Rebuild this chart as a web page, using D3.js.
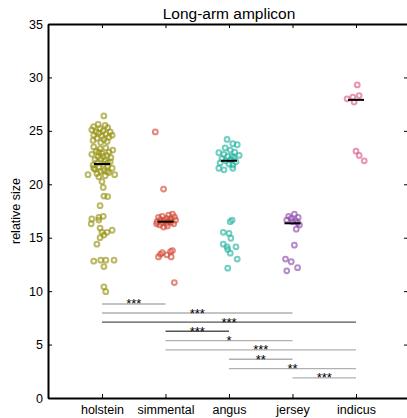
<!DOCTYPE html>
<html>
<head>
<meta charset="utf-8">
<script src="https://cdn.jsdelivr.net/npm/d3@7"></script>
<style>
body { margin: 0; background: #fff; }
text { font-family: "Liberation Sans", Arial, sans-serif; }
</style>
</head>
<body>
<div id="chart-area"></div>
<script>
// breeds
var categories = ["holstein", "simmental", "angus", "jersey", "indicus"];
var colors = ["#969414", "#d24a34", "#27b39f", "#8d4fab", "#dc5a8e"];

// relative size per animal (jitter in category units)
var holsteinVals = [26.4,
    25.6, 25.5, 25.4, 25.3, 25.2, 25.1, 25.0, 24.9, 24.9, 24.8, 24.7, 24.6, 24.5, 24.4, 24.3, 24.2, 24.1, 24.0, 23.9, 24.6,
    23.5, 23.4, 23.3, 23.2, 23.1, 23.0, 22.9, 22.8, 22.7, 22.6, 22.5, 22.4, 22.3, 22.2, 22.1, 22.0, 21.9, 21.8, 21.7, 21.6,
    21.5, 21.4, 21.3, 21.2, 21.1, 21.0, 20.9, 20.9, 20.8, 20.7, 21.2, 22.6, 23.0, 22.0, 21.5,
    20.25, 19.7, 18.9, 18.85, 18.0, 17.0, 16.9, 16.75, 16.65, 16.3, 15.9, 15.7, 15.5, 15.5, 15.25, 15.0, 14.4,
    12.8, 12.9, 12.9, 12.9, 12.3, 10.4, 9.95];
var holsteinJit = [0.03,
    -0.06, 0.05, -0.13, 0.09, -0.03, -0.16, 0.02, -0.09, 0.13, -0.05, 0.06, -0.13, 0, 0.11, -0.08, 0.03, -0.14, 0.08, -0.02, 0.16,
    -0.13, 0.06, -0.03, 0.17, -0.09, 0.11, 0, -0.16, 0.08, -0.06, 0.14, -0.02, -0.11, 0.05, 0.13, -0.08, 0.02, -0.14, 0.09, -0.05,
    0.16, -0.11, 0.03, -0.02, 0.11, -0.08, -0.22, 0.2, 0.05, -0.05, 0.08, 0.02, -0.05, 0.09, -0.13,
    0, 0.02, 0.03, 0.09, -0.03, 0.02, -0.05, -0.16, -0.05, -0.17, -0.03, 0.16, 0.08, 0, 0.03, -0.03, -0.08,
    -0.13, -0.02, 0.06, 0.19, 0.03, 0.03, 0.06];

var simmentalVals = [24.9, 19.55,
    17.2, 17.1, 17.0, 16.95, 16.9, 16.8, 16.75, 16.7, 16.65, 16.6, 16.55, 16.5, 16.45, 16.4, 16.35, 16.3, 16.2, 16.1, 16.0, 16.3,
    13.8, 13.7, 13.6, 13.45, 13.4, 13.2, 13.2, 10.8];
var simmentalJit = [-0.16, -0.03,
    0.11, 0.05, -0.05, 0.14, -0.11, 0.02, 0.08, -0.08, 0.16, -0.02, 0.05, -0.13, 0.09, -0.05, 0.02, 0.13, -0.09, 0.03, -0.03, -0.14,
    0.11, 0.08, -0.05, -0.08, 0.02, -0.11, 0.09, 0.14];

var angusVals = [24.2, 23.8, 23.7, 23.4, 23.2, 22.95, 23.0, 22.8, 22.7, 22.6, 22.5, 22.4, 22.3, 22.2, 22.1, 22.0, 21.9, 21.8,
    21.5, 21.35, 21.5, 22.6,
    16.5, 16.65, 15.5, 15.4, 14.95, 14.4, 14.15, 14.15, 13.9, 13.55, 13.0, 12.15];
var angusJit = [-0.03, 0.06, 0.13, -0.06, 0.02, -0.16, 0.09, -0.08, 0.16, -0.02, 0.08, -0.11, 0.03, -0.05, 0.11, -0.14, 0, 0.06,
    -0.16, -0.08, 0.06, 0.05,
    0.02, 0.05, -0.09, 0, 0.03, -0.09, -0.03, 0.11, -0.02, 0.02, 0.13, -0.02];

var jerseyVals = [17.2, 17.0, 16.9, 16.8, 16.65, 16.6, 16.5, 16.4, 16.2, 15.8, 14.3, 13.0, 12.75, 12.2, 11.9];
var jerseyJit = [0.03, -0.06, 0.09, -0.02, -0.09, 0.05, 0, 0.08, 0.11, 0.06, 0.03, -0.11, -0.02, 0.08, -0.09];

var indicusVals = [29.3, 28.3, 28.15, 28.0, 27.7, 23.1, 22.7, 22.2];
var indicusJit = [0.02, 0.05, -0.05, -0.14, -0.03, 0, 0.05, 0.13];

var medians = [21.9, 16.5, 22.2, 16.35, 27.9];

// significance brackets: from, to, label, height, dark
var pairFrom = [0, 0, 0, 1, 1, 1, 2, 2, 3];
var pairTo = [1, 3, 4, 2, 3, 4, 3, 4, 4];
var pairStars = ["***", "***", "***", "***", "*", "***", "**", "**", "***"];
var pairLevel = [8.8, 7.95, 7.1, 6.25, 5.37, 4.5, 3.62, 2.75, 1.88];
var pairDark = [false, false, true, true, false, false, false, false, false];

var yTicks = [0, 5, 10, 15, 20, 25, 30, 35];

var allVals = [holsteinVals, simmentalVals, angusVals, jerseyVals, indicusVals];
var allJit = [holsteinJit, simmentalJit, angusJit, jerseyJit, indicusJit];

var points = [];
allVals.forEach(function(vals, i) {
    vals.forEach(function(v, j) {
        points.push({ cat: i, value: v, jit: allJit[i][j] });
    });
});

var W = 407, H = 418;
var plotL = 48, plotR = 408, plotT = 24, plotB = 398;

var svg = d3.select("#chart-area")
    .append("svg")
        .attr("width", W)
        .attr("height", H);

var x = d3.scaleLinear()
    .domain([-0.85, 4.819])
    .range([plotL, plotR]);

var y = d3.scaleLinear()
    .domain([0, 35])
    .range([plotB, plotT]);

// Title
svg.append("text")
    .attr("x", 229)
    .attr("y", 19)
    .attr("text-anchor", "middle")
    .attr("font-size", "15.5px")
    .text("Long-arm amplicon");

// Y label
svg.append("text")
    .attr("transform", "translate(20," + ((plotT + plotB) / 2) + ") rotate(-90)")
    .attr("text-anchor", "middle")
    .attr("font-size", "12.5px")
    .text("relative size");

// brackets
var br = svg.append("g");
pairFrom.forEach(function(f, i) {
    br.append("line")
        .attr("x1", x(f))
        .attr("x2", x(pairTo[i]))
        .attr("y1", y(pairLevel[i]))
        .attr("y2", y(pairLevel[i]))
        .attr("stroke", pairDark[i] ? "#555" : "#b0b0b0")
        .attr("stroke-width", 1.4);
    br.append("text")
        .attr("x", (x(f) + x(pairTo[i])) / 2)
        .attr("y", y(pairLevel[i]) + 4.5)
        .attr("text-anchor", "middle")
        .attr("font-size", "13px")
        .text(pairStars[i]);
});

// points
svg.append("g")
    .selectAll("circle")
    .data(points)
    .enter()
    .append("circle")
        .attr("cx", function(d) { return x(d.cat + d.jit); })
        .attr("cy", function(d) { return y(d.value); })
        .attr("r", 2.4)
        .attr("fill", "none")
        .attr("stroke", function(d) { return colors[d.cat]; })
        .attr("stroke-width", 2)
        .attr("stroke-opacity", 0.65);

// medians
svg.append("g")
    .selectAll("line")
    .data(medians)
    .enter()
    .append("line")
        .attr("x1", function(d, i) { return x(i) - 8; })
        .attr("x2", function(d, i) { return x(i) + 8; })
        .attr("y1", function(d) { return y(d); })
        .attr("y2", function(d) { return y(d); })
        .attr("stroke", "#000")
        .attr("stroke-width", 2);

// axes
var xAxisCall = d3.axisBottom(x)
    .tickValues(d3.range(categories.length))
    .tickFormat(function(i) { return categories[i]; })
    .tickSizeInner(-4)
    .tickSizeOuter(0)
    .tickPadding(7);
var xAxisGroup = svg.append("g")
    .attr("transform", "translate(0," + plotB + ")")
    .call(xAxisCall);

var xTopGroup = svg.append("g")
    .attr("transform", "translate(0," + plotT + ")")
    .call(d3.axisTop(x).tickValues(d3.range(categories.length)).tickFormat("").tickSizeInner(-4).tickSizeOuter(0));

var yAxisCall = d3.axisLeft(y)
    .tickValues(yTicks)
    .tickSizeInner(-4)
    .tickSizeOuter(0)
    .tickPadding(5);
var yAxisGroup = svg.append("g")
    .attr("transform", "translate(" + plotL + ",0)")
    .call(yAxisCall);

var yRightGroup = svg.append("g")
    .attr("transform", "translate(" + plotR + ",0)")
    .call(d3.axisRight(y).tickValues(yTicks).tickFormat("").tickSizeInner(-4).tickSizeOuter(0));

svg.selectAll(".domain")
    .attr("stroke", "#000")
    .attr("stroke-width", 2);
svg.selectAll(".tick line")
    .attr("stroke", "#000")
    .attr("stroke-width", 1);
svg.selectAll(".tick text")
    .attr("fill", "#000")
    .attr("font-family", "Liberation Sans, Arial, sans-serif")
    .attr("font-size", "12.5px");
</script>
</body>
</html>
